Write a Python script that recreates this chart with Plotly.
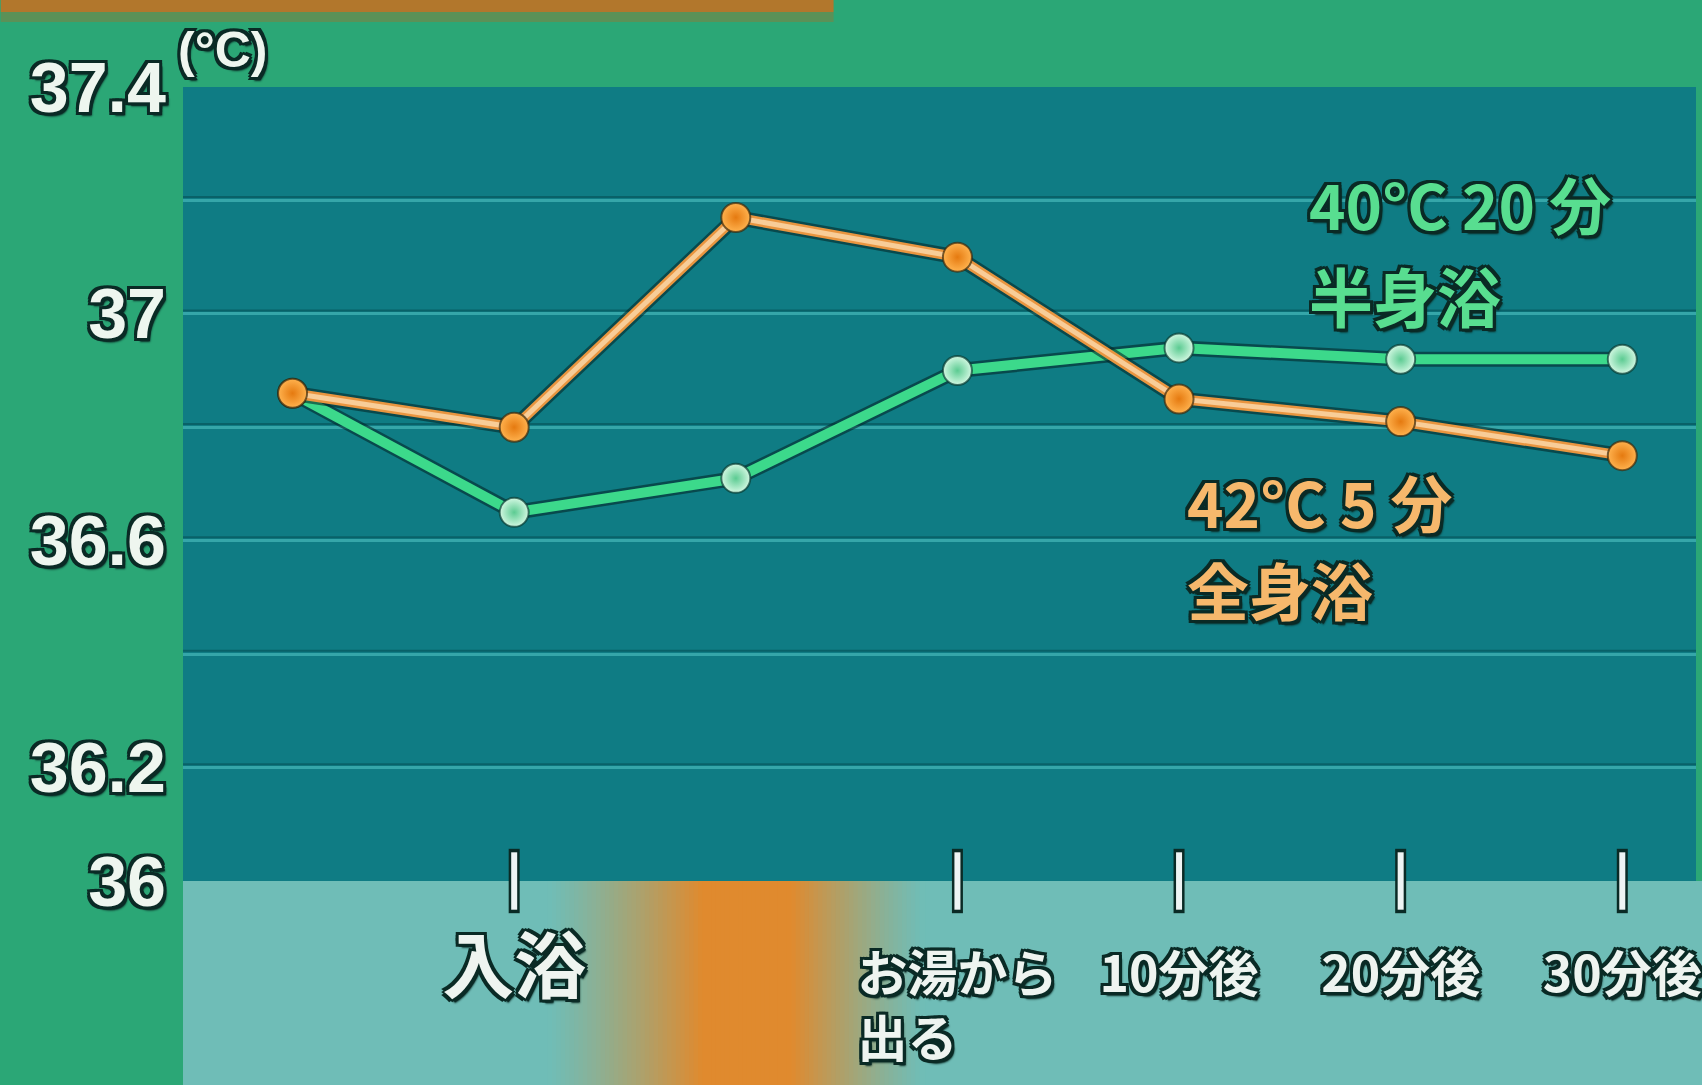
import plotly.graph_objects as go

# Time points along the x axis (category index) and the labelled ones
TIME_INDEX = [0, 1, 2, 3, 4, 5, 6]
TICK_INDEX = [1, 3, 4, 5, 6]
TICK_LABELS = [
    "<span style='font-size:72px'>入浴</span>",
    "お湯から<br>出る\u3000\u3000",
    "10分後",
    "20分後",
    "30分後",
]

# Body temperature (°C)
HALF_BATH = [36.86, 36.65, 36.71, 36.90, 36.94, 36.92, 36.92]   # 40°C 20分 半身浴
FULL_BATH = [36.86, 36.80, 37.17, 37.10, 36.85, 36.81, 36.75]   # 42°C 5分 全身浴

Y_TICKS = [36.0, 36.2, 36.6, 37.0, 37.4]
Y_TICK_LABELS = ["36", "36.2", "36.6", "37", "37.4"]
Y_GRID = [36.2, 36.4, 36.6, 36.8, 37.0, 37.2]

# Bath period marker under the axis: fade-in start, full start, full end, fade-out end
BATH_WINDOW = (1.15, 1.85, 2.25, 2.85)

W, H = 1702, 1085
M_L, M_R, M_T, M_B = 183, 0, 87, 204

GREEN_BG = "#2ba776"
PLOT_BG = "#0f7c84"
BAND_BG = "#6fbdb7"
ORANGE_BAND = "#e08a2e"
OUTLINE = "#0a2a25"


def outline(c=OUTLINE, w=3):
    return ", ".join([
        f"{w}px {w}px 0 {c}", f"-{w}px {w}px 0 {c}",
        f"{w}px -{w}px 0 {c}", f"-{w}px -{w}px 0 {c}",
        f"0 {w}px 0 {c}", f"{w}px 0 0 {c}",
        f"0 -{w}px 0 {c}", f"-{w}px 0 0 {c}",
        f"{w}px {w+1}px 2px {c}",
    ])


def hex_to_rgb(h):
    h = h.lstrip("#")
    return tuple(int(h[i:i + 2], 16) for i in (0, 2, 4))


def mix(c1, c2, t):
    a, b = hex_to_rgb(c1), hex_to_rgb(c2)
    return "rgb({},{},{})".format(*[round(a[i] + (b[i] - a[i]) * t) for i in range(3)])


fig = go.Figure()

# Green series: drop shadow, line, markers
fig.add_trace(go.Scatter(
    x=TIME_INDEX, y=HALF_BATH, mode="lines",
    line=dict(color="rgba(4,40,40,0.6)", width=15), hoverinfo="skip", showlegend=False,
))
fig.add_trace(go.Scatter(
    x=TIME_INDEX, y=HALF_BATH, mode="lines+markers", name="40°C 20分 半身浴",
    line=dict(color="#3cd98b", width=10),
    marker=dict(size=29, color="#d2f8e2",
                gradient=dict(type="radial", color="#5ccb92"),
                line=dict(color="rgba(8,60,50,0.7)", width=2)),
    showlegend=False,
))

# Orange series: drop shadow, line, highlight, markers
fig.add_trace(go.Scatter(
    x=TIME_INDEX, y=FULL_BATH, mode="lines",
    line=dict(color="rgba(4,40,40,0.6)", width=15), hoverinfo="skip", showlegend=False,
))
fig.add_trace(go.Scatter(
    x=TIME_INDEX, y=FULL_BATH, mode="lines",
    line=dict(color="#e9953f", width=10), hoverinfo="skip", showlegend=False,
))
fig.add_trace(go.Scatter(
    x=TIME_INDEX, y=FULL_BATH, mode="lines",
    line=dict(color="#f8cd98", width=5), hoverinfo="skip", showlegend=False,
))
fig.add_trace(go.Scatter(
    x=TIME_INDEX, y=FULL_BATH, mode="markers", name="42°C 5分 全身浴",
    marker=dict(size=29, color="#ffb24e",
                gradient=dict(type="radial", color="#e57a10"),
                line=dict(color="rgba(60,40,10,0.7)", width=2)),
    showlegend=False,
))

# Tick marks on the time axis (outlined white bars)
fig.add_trace(go.Scatter(
    x=TICK_INDEX, y=[Y_TICKS[0]] * len(TICK_INDEX), mode="markers", cliponaxis=False,
    marker=dict(symbol="line-ns", size=46, line=dict(color=OUTLINE, width=11)),
    hoverinfo="skip", showlegend=False,
))
fig.add_trace(go.Scatter(
    x=TICK_INDEX, y=[Y_TICKS[0]] * len(TICK_INDEX), mode="markers", cliponaxis=False,
    marker=dict(symbol="line-ns", size=41, line=dict(color="#eef4f4", width=6)),
    hoverinfo="skip", showlegend=False,
))

shapes = []
plot_h = H - M_T - M_B
band_bottom = -(M_B + 5) / plot_h

# Light band below the plot area
shapes.append(dict(type="rect", xref="paper", yref="paper", x0=0, x1=1.01,
                   y0=band_bottom, y1=0, fillcolor=BAND_BG, line=dict(width=0), layer="below"))

# Orange gradient marking the time spent in the bath
a, b, c, d = BATH_WINDOW
step = 0.02
x = a
while x < d:
    xm = x + step / 2
    if xm < b:
        t = (xm - a) / (b - a)
    elif xm <= c:
        t = 1.0
    else:
        t = (d - xm) / (d - c)
    t = max(0.0, min(1.0, t)) ** 1.2
    shapes.append(dict(type="rect", xref="x", yref="paper", x0=x, x1=x + step + 0.004,
                       y0=band_bottom, y1=0, fillcolor=mix(BAND_BG, ORANGE_BAND, t),
                       line=dict(width=0), layer="below"))
    x += step

# Dark edge above each grid line
for v in Y_GRID:
    shapes.append(dict(type="line", xref="paper", yref="y", x0=0, x1=1,
                       y0=v + 0.006, y1=v + 0.006,
                       line=dict(color="rgba(5,80,85,0.6)", width=2), layer="below"))

# Brown strip along the top edge
top = 1 + M_T / plot_h
shapes.append(dict(type="rect", xref="paper", yref="paper", x0=-M_L / (W - M_L), x1=0.43,
                   y0=top - 12 / plot_h, y1=top + 0.01, fillcolor="#b2772c",
                   line=dict(width=0), layer="below"))
shapes.append(dict(type="rect", xref="paper", yref="paper", x0=-M_L / (W - M_L), x1=0.43,
                   y0=top - 22 / plot_h, y1=top - 12 / plot_h, fillcolor="rgba(150,120,50,0.45)",
                   line=dict(width=0), layer="below"))

label_font = dict(family="Noto Sans CJK JP", weight="bold", shadow=outline())
annotations = [
    dict(text="(°C)", xref="paper", yref="paper", x=40 / (W - M_L), y=1 + 37 / plot_h,
         xanchor="center", yanchor="middle", showarrow=False,
         font=dict(family="Liberation Sans", size=50, color="#eef6ef", weight="bold",
                   shadow=outline())),
    dict(text="40°C 20 分", xref="x", yref="y", x=4.58, y=37.195,
         xanchor="left", yanchor="middle", showarrow=False, borderpad=0,
         font=dict(size=62, color="#58de90", **label_font)),
    dict(text="半身浴", xref="x", yref="y", x=4.58, y=37.035,
         xanchor="left", yanchor="middle", showarrow=False, borderpad=0,
         font=dict(size=64, color="#58de90", **label_font)),
    dict(text="42°C 5 分", xref="x", yref="y", x=4.03, y=36.67,
         xanchor="left", yanchor="middle", showarrow=False, borderpad=0,
         font=dict(size=62, color="#f6b86c", **label_font)),
    dict(text="全身浴", xref="x", yref="y", x=4.03, y=36.515,
         xanchor="left", yanchor="middle", showarrow=False, borderpad=0,
         font=dict(size=62, color="#f6b86c", **label_font)),
]

x0 = -(293 - M_L) / 222.5
x1 = x0 + (W - M_L - M_R) / 222.5

fig.update_layout(
    width=W, height=H,
    margin=dict(l=M_L, r=M_R, t=M_T, b=M_B, pad=0),
    paper_bgcolor=GREEN_BG,
    plot_bgcolor=PLOT_BG,
    shapes=shapes,
    annotations=annotations,
    showlegend=False,
    xaxis=dict(
        range=[x0, x1], tickmode="array", tickvals=TICK_INDEX, ticktext=TICK_LABELS,
        showgrid=False, zeroline=False, showline=False, ticks="",
        ticklabelstandoff=60, ticklabeloverflow="allow",
        tickfont=dict(family="Noto Sans CJK JP", size=50, color="#eef4f0", weight="bold",
                      shadow=outline()),
        fixedrange=True,
    ),
    yaxis=dict(
        range=[Y_TICKS[0], Y_TICKS[-1]], tickmode="array", tickvals=Y_TICKS,
        ticktext=Y_TICK_LABELS, showgrid=False, zeroline=False, showline=False, ticks="",
        ticklabelstandoff=16,
        tickfont=dict(family="Liberation Sans", size=70, color="#eef6ef", weight="bold",
                      shadow=outline()),
        minor=dict(tickvals=Y_GRID, showgrid=True, gridcolor="#35a6a9", gridwidth=3, ticks=""),
        fixedrange=True,
    ),
)

fig.write_html("out.html")
